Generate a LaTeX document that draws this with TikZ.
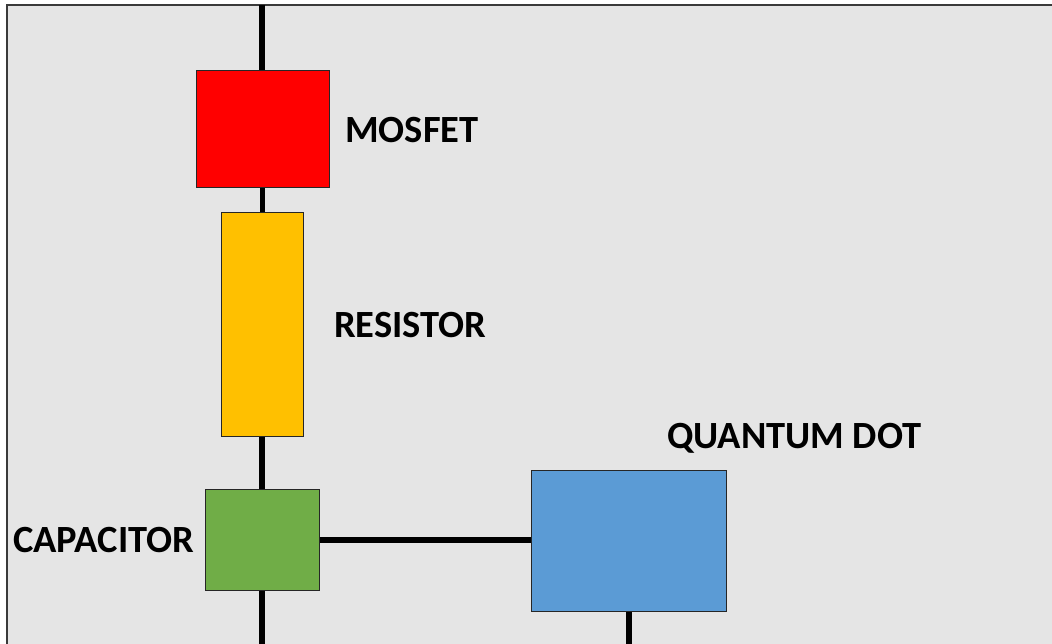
\documentclass[tikz,border=0pt]{standalone}
\usepackage{fontspec}
\setmainfont{Carlito}
\definecolor{bggray}{HTML}{E5E5E5}
\definecolor{framegray}{HTML}{3A3A3A}
\definecolor{mosred}{HTML}{FF0000}
\definecolor{resyellow}{HTML}{FFC000}
\definecolor{capgreen}{HTML}{70AD47}
\definecolor{qdblue}{HTML}{5B9BD5}
\begin{document}
\begin{tikzpicture}[x=1pt,y=-1pt,
  comp/.style={draw=black!85, line width=1pt, inner sep=0pt, rectangle},
  wire/.style={line width=5.8pt, black},
  lbl/.style={font=\fontsize{38.5}{44}\selectfont\bfseries, inner sep=0pt, anchor=west, text=black}]
\useasboundingbox (0,0) rectangle (1052,644);
\begin{scope}
\clip (0,0) rectangle (1052,644);
\draw[fill=bggray, draw=framegray, line width=2pt] (6.5,5) rectangle (1070,660);
\end{scope}
% free ends
\coordinate (top) at (262,5);
\coordinate (capbot) at (262,644);
\coordinate (qdbot) at (629,644);
% components
\node[comp, fill=mosred, minimum width=133pt, minimum height=117pt] (mos) at (262.5,129.5) {};
\node[comp, fill=resyellow, minimum width=82pt, minimum height=223pt] (res) at (262,324.5) {};
\node[comp, fill=capgreen, minimum width=114pt, minimum height=101pt] (cap) at (262,540) {};
\node[comp, fill=qdblue, minimum width=195pt, minimum height=141pt] (qd) at (629,540.5) {};
% wires
\draw[wire] (top) -- (top |- mos.north);
\draw[wire] (mos.south) -- (mos.south |- res.north);
\draw[wire] (res.south) -- (res.south |- cap.north);
\draw[wire] (cap.east) -- (cap.east -| qd.west);
\draw[wire] (cap.south) -- (capbot);
\draw[wire] (qd.south) -- (qd.south |- qdbot);
% labels
\node[lbl] (lmos) at (345,130) {MOSFET};
\node[lbl] (lres) at (334,325) {RESISTOR};
\node[lbl] (lqd) at (667,438) {QUANTUM DOT};
\node[lbl] (lcap) at (13,540) {CAPACITOR};
\end{tikzpicture}
\end{document}
